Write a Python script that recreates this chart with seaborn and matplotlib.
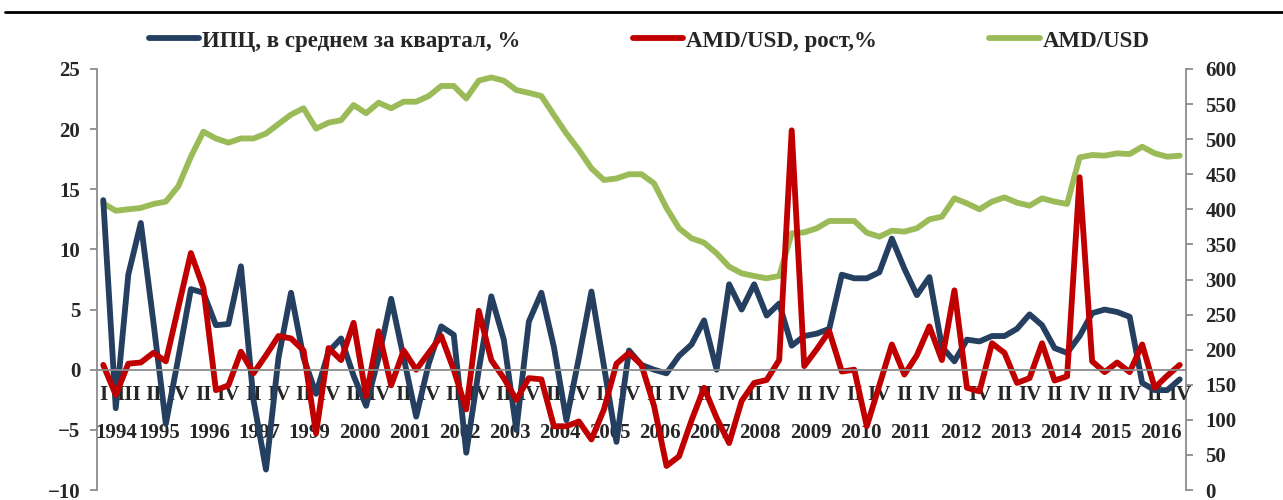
import numpy as np
import matplotlib
matplotlib.use('Agg')
import matplotlib.pyplot as plt
from matplotlib.lines import Line2D
import seaborn as sns

# quarterly data, 1998 is absent in the source chart and 1994 has three quarters
years = ['1994', '1995', '1996', '1997', '1999', '2000', '2001', '2002', '2003',
         '2004', '2005', '2006', '2007', '2008', '2009', '2010', '2011', '2012',
         '2013', '2014', '2015', '2016']
quarters_per_year = [3] + [4] * 21
roman = ['I', 'II', 'III', 'IV']

cpi = [14.1, -3.2, 7.9, 12.2, 4.0, -4.5, 1.0, 6.7, 6.4, 3.7, 3.8, 8.6, -2.5, -8.3,
       1.0, 6.4, 1.0, -2.0, 1.5, 2.6, -0.5, -3.0, 1.0, 5.9, 1.0, -3.9, 0.5, 3.6,
       2.9, -6.9, 0.0, 6.1, 2.5, -5.0, 4.0, 6.4, 1.9, -4.2, 1.0, 6.5, 0.3, -6.0,
       1.6, 0.4, 0.0, -0.3, 1.15, 2.1, 4.1, 0.0, 7.1, 5.0, 7.1, 4.5, 5.5, 2.0,
       2.8, 3.0, 3.4, 7.9, 7.6, 7.6, 8.1, 10.9, 8.4, 6.2, 7.7, 1.9, 0.7, 2.5,
       2.35, 2.8, 2.8, 3.4, 4.6, 3.7, 1.8, 1.4, 2.8, 4.7, 5.0, 4.8, 4.4, -1.1,
       -1.7, -1.7, -0.8]

fx_growth = [0.4, -2.1, 0.5, 0.6, 1.4, 0.7, 5.2, 9.7, 6.8, -1.7, -1.3, 1.5, -0.3,
             1.2, 2.8, 2.6, 1.6, -5.3, 1.8, 0.8, 3.9, -2.2, 3.2, -1.3, 1.6, 0.0,
             1.4, 2.8, 0.0, -3.3, 4.9, 0.8, -0.7, -2.5, -0.7, -0.8, -4.7, -4.7,
             -4.3, -5.8, -3.3, 0.5, 1.4, 0.4, -3.0, -8.0, -7.2, -4.2, -1.5, -4.0,
             -6.1, -2.6, -1.1, -0.85, 0.8, 19.9, 0.3, 1.7, 3.2, -0.15, 0.0, -4.7,
             -1.3, 2.1, -0.4, 1.2, 3.6, 0.8, 6.6, -1.5, -1.8, 2.2, 1.4, -1.1, -0.7,
             2.2, -0.9, -0.55, 16.0, 0.7, -0.2, 0.6, -0.2, 2.1, -1.5, -0.5, 0.4]

amd_usd = [408.5, 398, 400, 402, 407.6, 411, 433, 475, 510.7, 501, 495, 501, 501,
           508, 521.6, 535, 544, 515, 523.5, 527, 548.7, 537, 552, 544, 553.4,
           553.4, 561.5, 575.8, 575.8, 558, 583.4, 588, 583.4, 570, 566, 561.5,
           534.4, 508, 484.6, 458.4, 441.8, 444, 450, 450, 437, 402, 373, 358.7,
           352.5, 337.3, 318.3, 308.8, 305, 301.7, 305, 365.8, 367.2, 373, 383.4,
           383.4, 383.4, 366.7, 361, 369.6, 368.2, 373, 385.7, 389.5, 415.7,
           408.5, 400, 411, 417, 409.5, 405.2, 415.7, 411, 407.6, 474, 477.4,
           476.5, 479.8, 478.8, 489.3, 479.8, 475, 476.5]

series_names = ['ИПЦ, в среднем за квартал, %', 'AMD/USD, рост,%', 'AMD/USD']
colors = ['#243F60', '#C00000', '#9BBB59']

sns.set_style('white')
plt.rcParams['font.family'] = ['Liberation Serif', 'DejaVu Serif']
plt.rcParams['font.weight'] = 'bold'
gray = '#8C8C8C'
fs = 15
lw = 4.2

# build quarter labels and year boundaries
q_labels = []
year_starts = [0]
for n in quarters_per_year:
    q_labels += roman[:n]
    year_starts.append(year_starts[-1] + n)
x = np.arange(len(q_labels))

fig = plt.figure(figsize=(12.83, 5), dpi=100)
ax = fig.add_axes([97 / 1283, 10 / 500, 1089 / 1283, 421 / 500])
ax2 = ax.twinx()

sns.lineplot(x=x, y=cpi, ax=ax, color=colors[0], lw=lw, sort=False,
             solid_joinstyle='round', solid_capstyle='round')
sns.lineplot(x=x, y=fx_growth, ax=ax, color=colors[1], lw=lw, sort=False,
             solid_joinstyle='round', solid_capstyle='round')
sns.lineplot(x=x, y=amd_usd, ax=ax2, color=colors[2], lw=lw, sort=False,
             solid_joinstyle='round', solid_capstyle='round')

ax.set_zorder(ax2.get_zorder() + 1)
ax.patch.set_visible(False)

ax.set_xlim(-0.5, len(x) - 0.5)
ax.set_ylim(-10, 25)
ax2.set_ylim(0, 600)
ax.set_yticks(np.arange(-10, 26, 5))
ax2.set_yticks(np.arange(0, 601, 50))

# category axis at zero with quarter and year separators
ax.spines['bottom'].set_position(('data', 0))
for s in ['top', 'right']:
    ax.spines[s].set_visible(False)
for s in ['top', 'bottom', 'left']:
    ax2.spines[s].set_visible(False)
for sp in [ax.spines['left'], ax.spines['bottom'], ax2.spines['right']]:
    sp.set_color(gray)
    sp.set_linewidth(1.3)

ax.set_xticks(np.array(year_starts) - 0.5)
ax.set_xticks(x[1:] - 0.5, minor=True)
ax.tick_params(axis='x', which='major', direction='out', length=52.5,
               width=1.3, color=gray, labelbottom=False)
ax.tick_params(axis='x', which='minor', direction='out', length=7,
               width=1.3, color=gray, labelbottom=False)
ax.tick_params(axis='y', direction='out', length=5, width=1.3, color=gray,
               labelsize=fs, pad=7, left=True)
ax2.tick_params(axis='y', direction='out', length=5, width=1.3, color=gray,
                labelsize=fs, pad=9, right=True)
ax2.tick_params(axis='x', bottom=False, labelbottom=False)
ax.set_xlabel('')
ax.set_ylabel('')
ax2.set_ylabel('')

for k in x[::2]:
    ax.annotate(q_labels[k], xy=(k, 0), xycoords='data', xytext=(0, -25),
                textcoords='offset pixels', ha='center', va='center',
                fontsize=fs, fontweight='bold', zorder=1)
for i, yr in enumerate(years):
    mid = (year_starts[i] + year_starts[i + 1] - 1) / 2
    ax.annotate(yr, xy=(mid, 0), xycoords='data', xytext=(0, -63),
                textcoords='offset pixels', ha='center', va='center',
                fontsize=fs, fontweight='bold', zorder=1)

# top rule
fig.add_artist(Line2D([5 / 1283, 1], [1 - 12 / 500, 1 - 12 / 500],
                      color='black', lw=2, transform=fig.transFigure))

handles = [ax.lines[0], ax.lines[1], ax2.lines[0]]
fig.legend(handles, series_names, loc='center', bbox_to_anchor=(0.506, 0.918),
           ncol=3, frameon=False, handlelength=2.2, handletextpad=0.12,
           columnspacing=4.9, prop={'size': 16.5, 'weight': 'bold'})

fig.savefig('out.png', dpi=100)
